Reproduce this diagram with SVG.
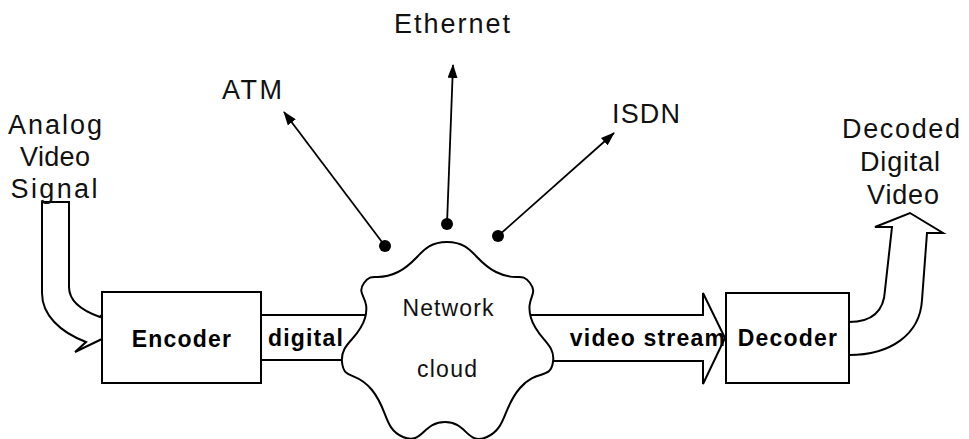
<svg xmlns="http://www.w3.org/2000/svg" width="969" height="439" viewBox="0 0 969 439">
  <defs>
    <marker id="head" viewBox="0 0 14 10" refX="13" refY="5" markerWidth="14" markerHeight="10" markerUnits="userSpaceOnUse" orient="auto">
      <path d="M0,0 L14,5 L0,10 Z" fill="#000"/>
    </marker>
    <style>
      .shape { fill: #fff; stroke: #000; stroke-width: 2; stroke-linejoin: miter; }
      .line { fill: none; stroke: #000; stroke-width: 2; }
      .link { fill: none; stroke: #000; stroke-width: 1.8; marker-end: url(#head); }
      .dot { fill: #000; }
      .lbl { font-family: "Liberation Sans", Arial, sans-serif; font-size: 27px; fill: #111; text-anchor: middle; }
      .bold { font-family: "Liberation Sans", Arial, sans-serif; font-size: 23px; font-weight: bold; letter-spacing: 1.2px; fill: #000; text-anchor: middle; }
      .cloudtxt { font-family: "Liberation Sans", Arial, sans-serif; font-size: 23px; fill: #111; text-anchor: middle; }
    </style>
  </defs>
  <rect width="969" height="439" fill="#fff"/>

  <g id="connectors">
    <!-- analog input: bent block arrow into the encoder -->
    <path class="shape" d="M42,202 L69,202 L69,287 C69,300 80,310 100,317 L108,308 L102,339 L75,352 L86,342 C60,332 42,315 42,293 Z"/>
    <!-- digital band between encoder and cloud -->
    <line class="line" x1="261" y1="315" x2="380" y2="315"/>
    <line class="line" x1="261" y1="360" x2="360" y2="360"/>
    <!-- video stream block arrow into the decoder -->
    <path class="shape" d="M520,315 L703,315 L703,293 L725,338 L703,384 L703,361 L540,361"/>
    <!-- decoded output: bent block arrow upward -->
    <path class="shape" d="M849,322 C872,322 884,312 885,290 L892,227 L875,227 L910,213 L943,233 L927,233 L922,300 C920,335 890,355 849,355"/>
    <!-- links from the cloud to the networks -->
    <line class="link" x1="385" y1="246" x2="284" y2="112"/>
    <line class="link" x1="447" y1="224" x2="453" y2="65"/>
    <line class="link" x1="498" y1="236" x2="614" y2="133"/>
    <circle class="dot" cx="385" cy="246" r="6"/>
    <circle class="dot" cx="447" cy="224" r="6"/>
    <circle class="dot" cx="498" cy="236" r="6"/>
  </g>

  <g id="encoder">
    <rect class="shape" x="102" y="292" width="159" height="91"/>
    <text class="bold" x="182" y="347">Encoder</text>
  </g>
  <text class="bold" x="306" y="346">digital</text>

  <g id="cloud">
    <path class="shape" d="M447,242 C473.1,242 473.9,261.1 496,272 C518.1,282.9 520.7,270.7 530,283 C539.3,295.3 524.9,296.9 531,318 C537.1,339.1 555.9,343.3 553,362 C550.1,380.7 537.6,368 520,388 C502.4,408 507,427.9 487,437 C467,446.1 467.4,422 445,422 C422.6,422 422.5,445.5 403,437 C383.5,428.5 388.3,410 372,390 C355.7,370 343.9,381.2 342,362 C340.1,342.8 359.1,339.1 365,318 C370.9,296.9 355.2,295.3 364,283 C372.8,270.7 375.9,282.9 398,272 C420.1,261.1 420.9,242 447,242 Z"/>
    <text class="cloudtxt" x="448" y="316" textLength="91" lengthAdjust="spacing">Network</text>
    <text class="cloudtxt" x="447" y="377" textLength="60" lengthAdjust="spacing">cloud</text>
  </g>

  <text class="bold" x="648" y="346">video stream</text>

  <g id="decoder">
    <rect class="shape" x="726" y="293" width="123" height="90"/>
    <text class="bold" x="788" y="346">Decoder</text>
  </g>

  <g id="labels">
    <text class="lbl" x="55" y="134" textLength="94" lengthAdjust="spacing">Analog</text>
    <text class="lbl" x="55" y="166" textLength="70" lengthAdjust="spacing">Video</text>
    <text class="lbl" x="54" y="198" textLength="87" lengthAdjust="spacing">Signal</text>
    <text class="lbl" x="252" y="99" textLength="60" lengthAdjust="spacing">ATM</text>
    <text class="lbl" x="452" y="33" textLength="116" lengthAdjust="spacing">Ethernet</text>
    <text class="lbl" x="646" y="123" textLength="68" lengthAdjust="spacing">ISDN</text>
    <text class="lbl" x="901" y="138" textLength="118" lengthAdjust="spacing">Decoded</text>
    <text class="lbl" x="900" y="171" textLength="80" lengthAdjust="spacing">Digital</text>
    <text class="lbl" x="903" y="204" textLength="72" lengthAdjust="spacing">Video</text>
  </g>
</svg>
